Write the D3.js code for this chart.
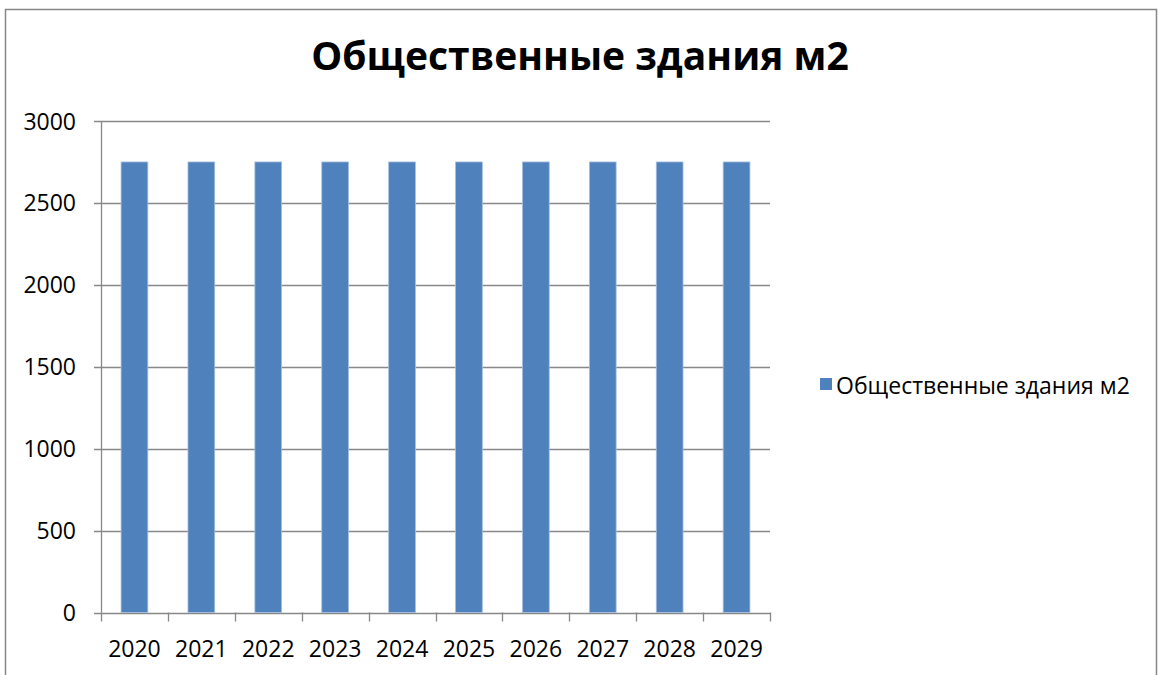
<!DOCTYPE html>
<html>
<head>
<meta charset="utf-8">
<script src="https://cdn.jsdelivr.net/npm/d3@7"></script>
<style>
  body { margin: 0; background: #fff; }
  svg text { font-family: "Open Sans", "Noto Sans", sans-serif; fill: #000; }
</style>
</head>
<body>
<script>
// chart data
const years = ['2020', '2021', '2022', '2023', '2024', '2025', '2026', '2027', '2028', '2029']
const areaValues = [2750, 2750, 2750, 2750, 2750, 2750, 2750, 2750, 2750, 2750]
const yTicks = [0, 500, 1000, 1500, 2000, 2500, 3000]
const seriesName = 'Общественные здания м2'
const chartTitle = 'Общественные здания м2'

const width = 1158, height = 675
const barColor = '#4F81BD'

const svg = d3.select('body').append('svg')
  .attr('width', width)
  .attr('height', height)

// outer chart frame (bottom edge falls outside the picture)
svg.append('rect')
  .attr('x', 5.5).attr('y', 9.5)
  .attr('width', 1151).attr('height', 700)
  .attr('fill', '#fff')
  .attr('stroke', '#868686').attr('stroke-width', 1.5)

const plot = { left: 101, right: 770, top: 121, bottom: 612.5 }

const x = d3.scaleBand()
  .domain(years)
  .range([plot.left, plot.right])
  .paddingInner(0.6)
  .paddingOuter(0.3)

const xTick = d3.scaleBand().domain(years).range([plot.left, plot.right])

const y = d3.scaleLinear()
  .domain([0, 3000])
  .range([plot.bottom, plot.top])

// horizontal gridlines + y tick marks
svg.append('g')
  .selectAll('line')
  .data(yTicks)
  .join('line')
  .attr('x1', plot.left - 7).attr('x2', plot.right)
  .attr('y1', d => Math.round(y(d)) + 0.5).attr('y2', d => Math.round(y(d)) + 0.5)
  .attr('stroke', '#888').attr('stroke-width', 1.3)

// y labels
svg.append('g')
  .selectAll('text')
  .data(yTicks)
  .join('text')
  .attr('x', 76)
  .attr('y', d => y(d) + 8.5)
  .attr('text-anchor', 'end')
  .style('font-size', '23px')
  .text(d => d)

// bars
svg.append('g')
  .selectAll('rect')
  .data(areaValues)
  .join('rect')
  .attr('x', (d, i) => x(years[i]))
  .attr('y', d => y(d))
  .attr('width', x.bandwidth())
  .attr('height', d => y(0) - y(d))
  .attr('fill', barColor)
  .attr('stroke', '#a7bfde').attr('stroke-width', 0.8)

// y axis line
svg.append('line')
  .attr('x1', plot.left + 0.5).attr('x2', plot.left + 0.5)
  .attr('y1', plot.top).attr('y2', plot.bottom)
  .attr('stroke', '#888').attr('stroke-width', 1.3)

// x axis tick marks
const xTickPos = years.map(d => xTick(d)).concat([plot.right])
svg.append('g')
  .selectAll('line')
  .data(xTickPos)
  .join('line')
  .attr('x1', d => Math.round(d) + 0.5).attr('x2', d => Math.round(d) + 0.5)
  .attr('y1', plot.bottom).attr('y2', plot.bottom + 9)
  .attr('stroke', '#888').attr('stroke-width', 1.3)

// x labels
svg.append('g')
  .selectAll('text')
  .data(years)
  .join('text')
  .attr('x', d => xTick(d) + xTick.bandwidth() / 2)
  .attr('y', 657)
  .attr('text-anchor', 'middle')
  .style('font-size', '23px')
  .text(d => d)

// title
svg.append('text')
  .attr('x', 580)
  .attr('y', 70)
  .attr('text-anchor', 'middle')
  .style('font-size', '39px')
  .style('font-weight', 'bold')
  .text(chartTitle)

// legend
svg.append('rect')
  .attr('x', 820).attr('y', 378)
  .attr('width', 12).attr('height', 12)
  .attr('fill', barColor)
svg.append('text')
  .attr('x', 836)
  .attr('y', 394)
  .style('font-size', '23px')
  .text(seriesName)
</script>
</body>
</html>
